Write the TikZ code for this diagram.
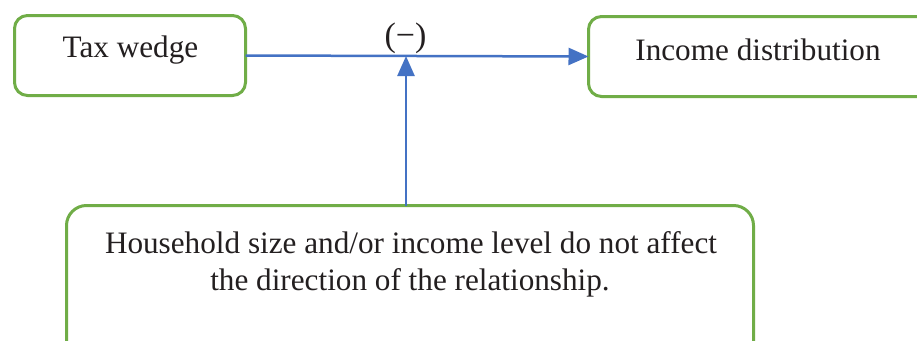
\documentclass[tikz,border=0pt]{standalone}
\usepackage{fontspec}
\setmainfont{Liberation Serif}
\usetikzlibrary{arrows.meta}
\definecolor{boxgreen}{HTML}{70AD47}
\definecolor{arrblue}{HTML}{4472C4}
\definecolor{txt}{HTML}{231F20}
\tikzset{
  box/.style={draw=boxgreen, line width=3pt, rounded corners=13pt, inner sep=0pt, outer sep=0pt, fill=white},
  lbl/.style={anchor=base, inner sep=0pt, text=txt, font=\fontsize{31.2}{37}\selectfont},
  arr/.style={draw=arrblue, line width=2.5pt, -{Triangle[length=20pt,width=17pt]}}
}
\begin{document}
\begin{tikzpicture}[x=1pt,y=-1pt]
\useasboundingbox (0,0) rectangle (917,340);
\clip (0,0) rectangle (917,340);
\fill[white] (0,0) rectangle (917,340);
\node[box, minimum width=231pt, minimum height=80pt] (a) at (130,55.5) {};
\node[box, minimum width=360pt, minimum height=80pt] (b) at (768.5,56.5) {};
\node[box, rounded corners=20pt, minimum width=687pt, minimum height=160pt] (c) at (410,285.5) {};
\node[lbl] (ta) at (130.5,57) {Tax wedge};
\node[lbl] (tb) at (758,60) {Income distribution};
\node[lbl] (tc1) at (411,253) {Household size and/or income level do not affect};
\node[lbl] (tc2) at (410,290) {the direction of the relationship.};
\node[lbl, font=\fontsize{34}{40}\selectfont] (sign) at (405.5,46.5) {(−)};
\coordinate (m) at (406,56);
\draw[arr] (a.east) -- (b.west);
\draw[arr] (c.north -| m) -- (m);
\end{tikzpicture}
\end{document}
